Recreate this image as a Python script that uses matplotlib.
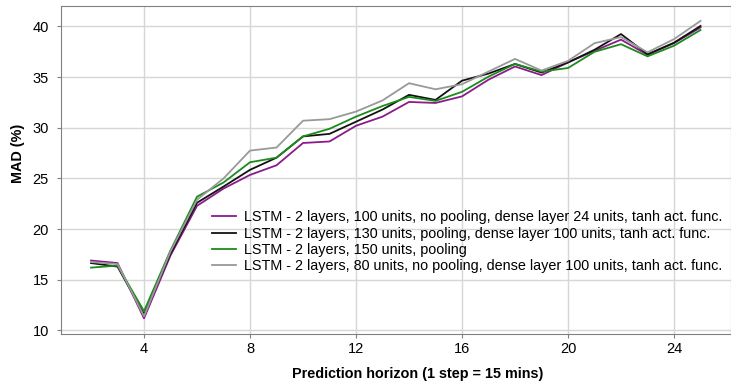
import matplotlib
matplotlib.use('Agg')
import matplotlib.pyplot as plt

plt.rcParams['font.family'] = ['Liberation Sans', 'DejaVu Sans']

# prediction horizon steps
steps = list(range(2, 26))

mad_lstm_100 = [16.9, 16.65, 11.2, 17.4, 22.3, 24.0, 25.35, 26.3, 28.5, 28.65,
                30.2, 31.1, 32.55, 32.45, 33.1, 34.75, 36.05, 35.2, 36.45, 37.6,
                38.7, 37.2, 38.35, 39.9]
mad_lstm_130 = [16.65, 16.3, 11.6, 17.6, 22.6, 24.2, 25.85, 27.05, 29.15, 29.4,
                30.6, 31.8, 33.25, 32.75, 34.65, 35.35, 36.3, 35.45, 36.45, 37.7,
                39.25, 37.25, 38.4, 40.05]
mad_lstm_150 = [16.2, 16.4, 11.9, 17.9, 23.2, 24.6, 26.6, 27.05, 29.15, 29.9,
                31.1, 32.15, 33.05, 32.65, 33.55, 35.05, 36.3, 35.55, 35.9, 37.5,
                38.25, 37.05, 38.1, 39.65]
mad_lstm_80 = [16.75, 16.55, 11.4, 17.8, 22.9, 25.0, 27.75, 28.05, 30.7, 30.85,
               31.6, 32.7, 34.4, 33.8, 34.3, 35.55, 36.8, 35.65, 36.6, 38.35,
               38.95, 37.45, 38.75, 40.55]

labels = [
    'LSTM - 2 layers, 100 units, no pooling, dense layer 24 units, tanh act. func.',
    'LSTM - 2 layers, 130 units, pooling, dense layer 100 units, tanh act. func.',
    'LSTM - 2 layers, 150 units, pooling',
    'LSTM - 2 layers, 80 units, no pooling, dense layer 100 units, tanh act. func.',
]
colors = ['#8b1a8b', '#111111', '#1a8c1a', '#999999']

fig = plt.figure(figsize=(7.31, 3.86), dpi=100)
ax = fig.add_axes([0.083, 0.135, 0.917, 0.85])

for ys, lab, c in zip([mad_lstm_100, mad_lstm_130, mad_lstm_150, mad_lstm_80],
                      labels, colors):
    ax.plot(steps, ys, color=c, lw=1.3, label=lab)

ax.set_xlim(0.855, 26.15)
ax.set_ylim(9.66, 42.04)
ax.set_xticks([4, 8, 12, 16, 20, 24])
ax.set_yticks([10, 15, 20, 25, 30, 35, 40])
ax.grid(True, color='#d6d6d6', lw=1.0)
ax.set_axisbelow(True)

for s in ax.spines.values():
    s.set_color('#808080')
ax.tick_params(axis='both', colors='#808080', labelcolor='black', labelsize=10.5,
               length=3)
ax.tick_params(axis='y', pad=5.5)
ax.tick_params(axis='x', pad=3)

ax.set_xlabel('Prediction horizon (1 step = 15 mins)', fontsize=10.4, fontweight='bold')
ax.set_ylabel('MAD (%)', fontsize=10.4, fontweight='bold')
ax.xaxis.set_label_coords(0.533, -0.10)
ax.yaxis.set_label_coords(-0.053, 0.55)

ax.legend(loc='upper left', bbox_to_anchor=(0.2175, 0.394), frameon=False,
          fontsize=10.4, handlelength=1.65, handletextpad=0.55, labelspacing=0.15,
          borderaxespad=0)

fig.savefig('out.png', dpi=100)
